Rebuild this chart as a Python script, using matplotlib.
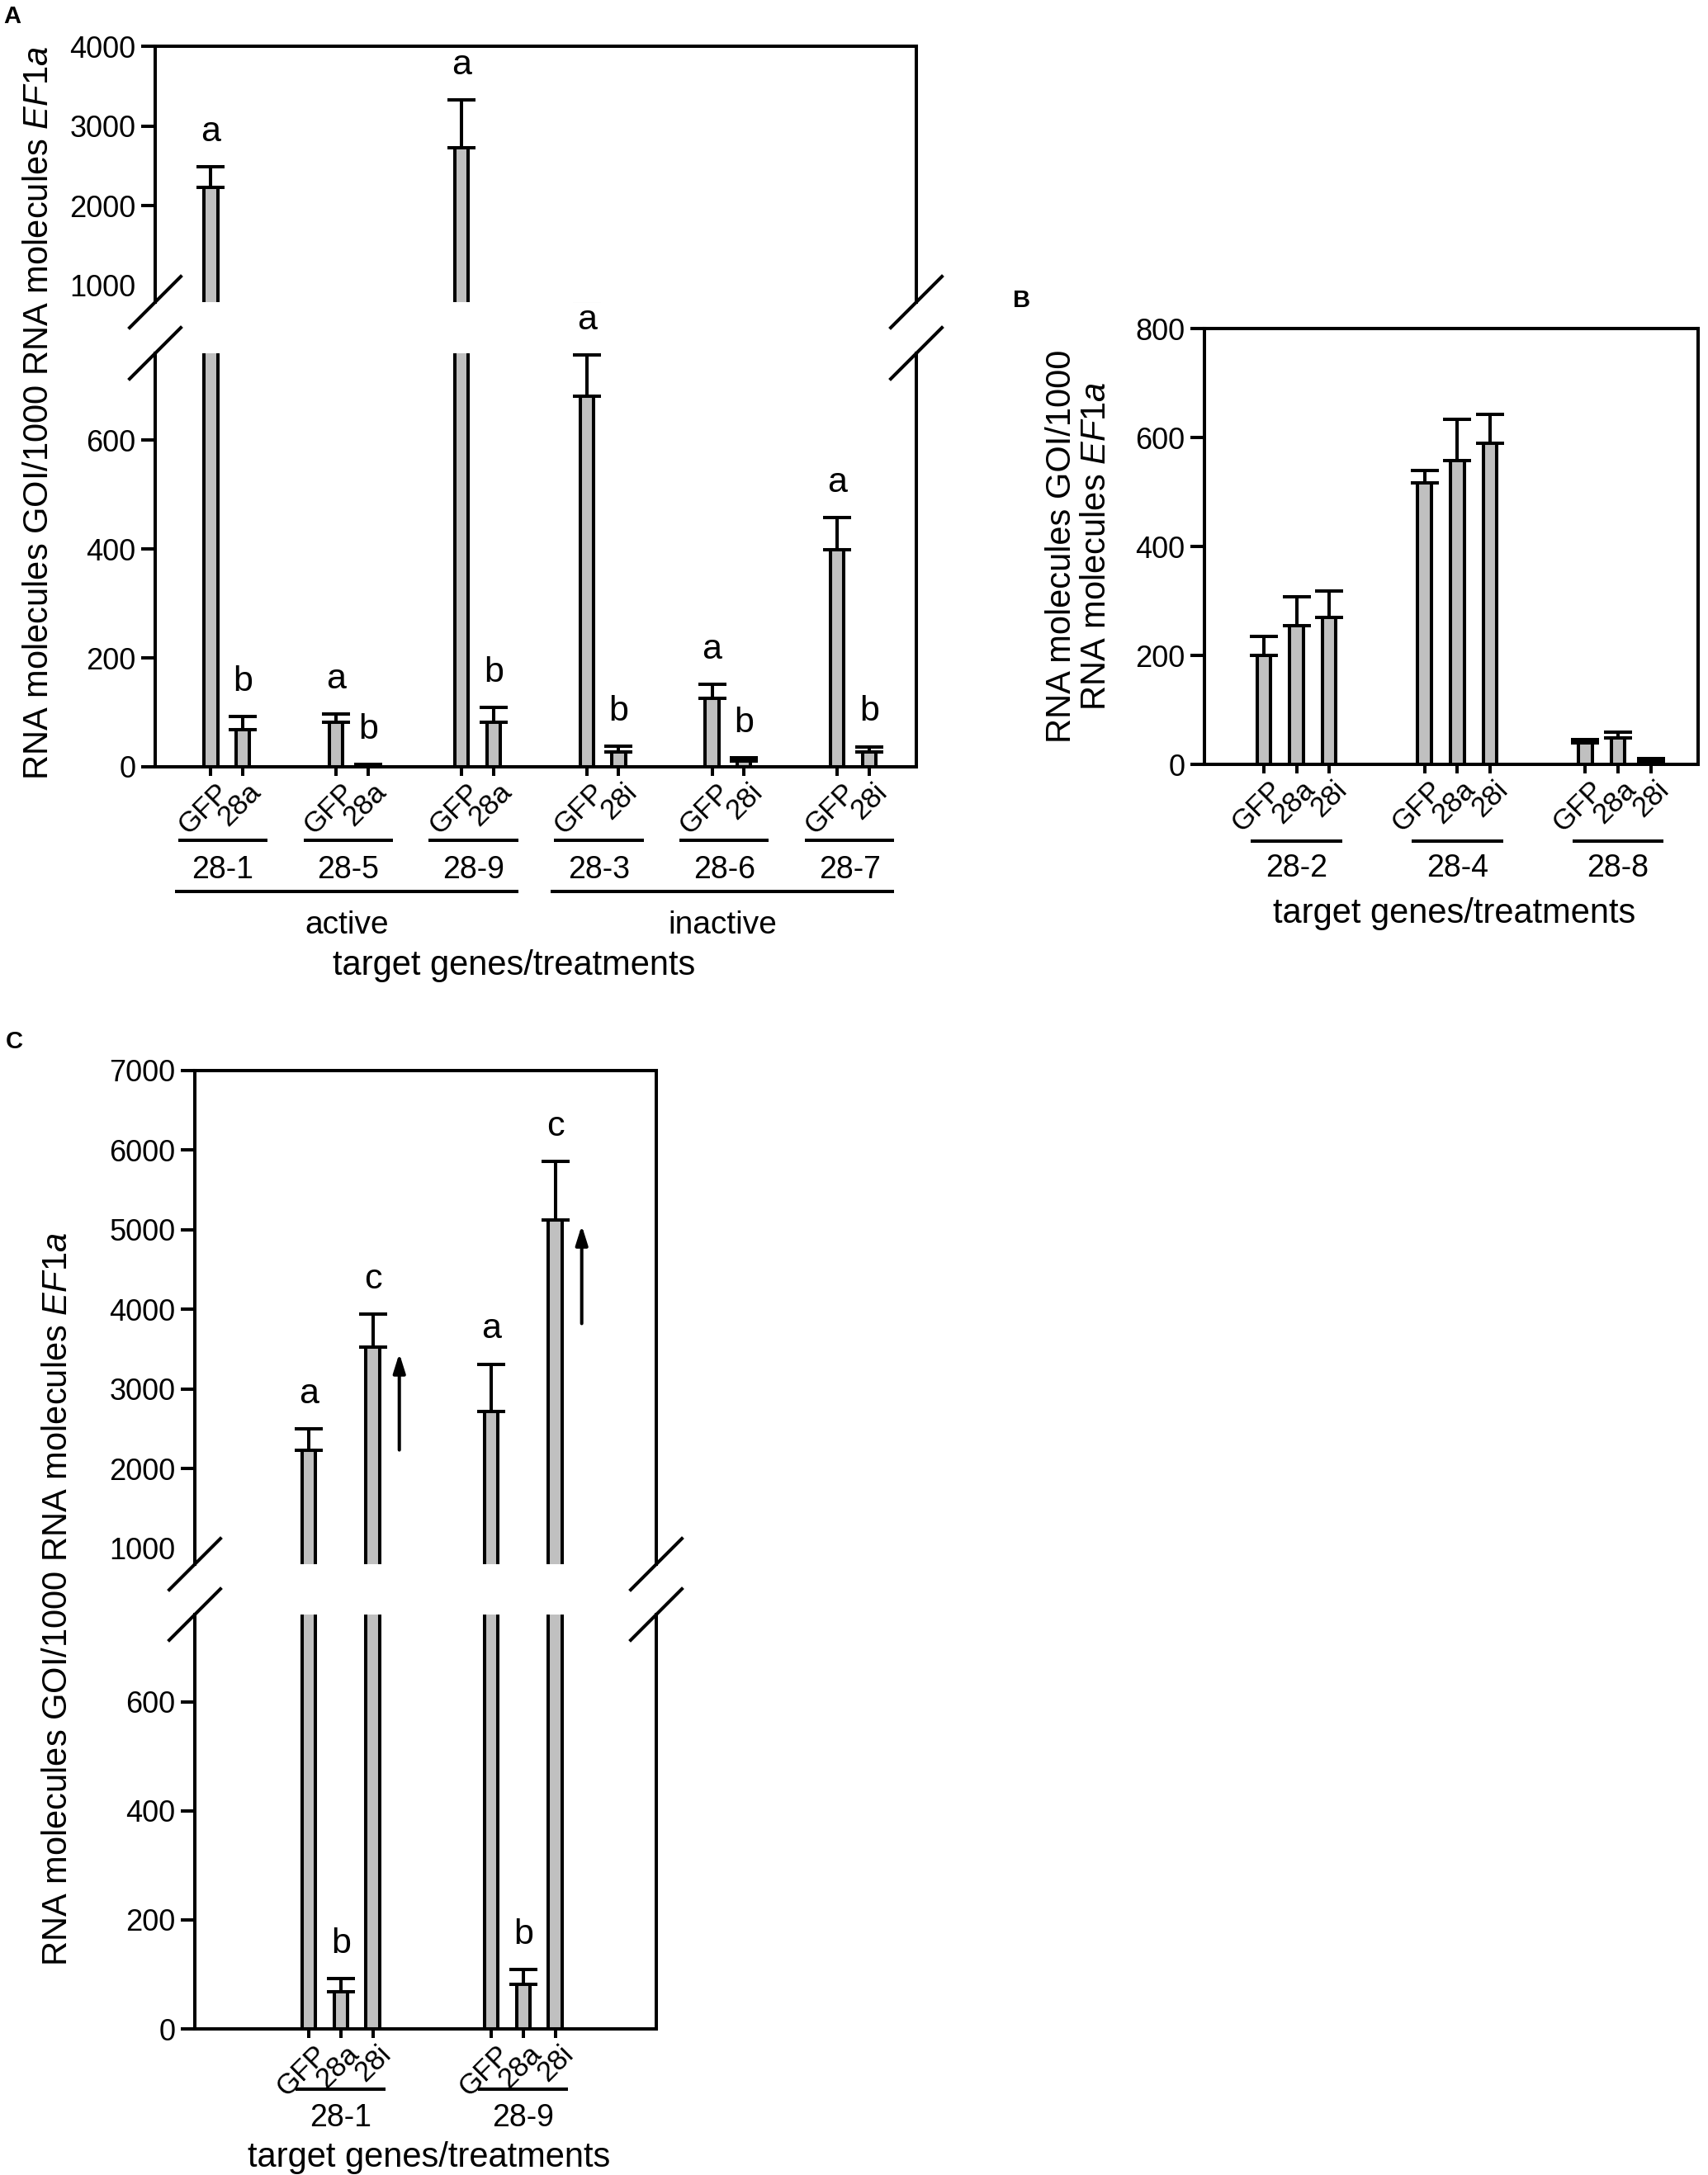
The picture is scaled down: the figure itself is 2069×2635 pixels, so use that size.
import numpy as np
import matplotlib.pyplot as plt
from matplotlib.lines import Line2D
from matplotlib.transforms import ScaledTranslation

plt.rcParams['font.family'] = ['Liberation Sans', 'DejaVu Sans']
plt.rcParams['mathtext.fontset'] = 'custom'
plt.rcParams['mathtext.rm'] = 'Liberation Sans'
plt.rcParams['mathtext.it'] = 'Liberation Sans:italic'

# ---- data ----
# panel A
a_genes = ['28-1', '28-5', '28-9', '28-3', '28-6', '28-7']
a_class = ['active', 'active', 'active', 'inactive', 'inactive', 'inactive']
a_treat = [['GFP', '28a'], ['GFP', '28a'], ['GFP', '28a'],
           ['GFP', '28i'], ['GFP', '28i'], ['GFP', '28i']]
a_mean = [[2229, 68], [82, 3], [2724, 82], [681, 28], [126, 10], [399, 28]]
a_top = [[2484, 92], [97, 4], [3322, 109], [757, 38], [151, 17], [458, 37]]
a_letters = [['a', 'b'], ['a', 'b'], ['a', 'b'], ['a', 'b'], ['a', 'b'], ['a', 'b']]

# panel B
b_genes = ['28-2', '28-4', '28-8']
b_treat = ['GFP', '28a', '28i']
b_mean = [[200, 255, 269], [517, 558, 590], [40, 48, 6]]
b_top = [[235, 307, 318], [539, 634, 642], [46, 59, 11]]

# panel C
c_genes = ['28-1', '28-9']
c_treat = ['GFP', '28a', '28i']
c_mean = [[2234, 68, 3528], [2722, 81, 5121]]
c_top = [[2497, 92, 3940], [3312, 109, 5862]]
c_letters = [['a', 'b', 'c'], ['a', 'b', 'c']]
c_arrow_from = [2206, 3794]
c_arrow_to = [3477, 5084]

YLAB = r'RNA molecules GOI/1000 RNA molecules $\mathit{EF1a}$'
XLAB = 'target genes/treatments'

W, H = 2069, 2635
LW = 2.9
GRAY = '#c0c0c0'
fig = plt.figure(figsize=(W / 100, H / 100), dpi=100)


def add_ax(left, right, top, bottom):
    return fig.add_axes([left / W, 1 - bottom / H, (right - left) / W, (bottom - top) / H])


def ftext(x, y, s, **kw):
    fig.text(x / W, 1 - y / H, s, **kw)


def slash(x, y, d=31):
    fig.add_artist(Line2D([(x - d) / W, (x + d) / W], [1 - (y + d) / H, 1 - (y - d) / H],
                          transform=fig.transFigure, color='black', lw=LW))


def style(ax):
    for s in ax.spines.values():
        s.set_linewidth(LW)
    ax.tick_params(axis='y', length=12, width=LW, labelsize=26, pad=5)
    ax.tick_params(axis='x', length=8, width=LW, labelsize=25, pad=2)


def rot_labels(ax, xs, labels):
    ax.set_xticks(xs)
    ax.set_xticklabels(labels, rotation=45, ha='right', rotation_mode='anchor')
    shift = ScaledTranslation(5 / 100, 0, fig.dpi_scale_trans)
    for lab in ax.get_xticklabels():
        lab.set_transform(lab.get_transform() + shift)


def bars(ax, xs, means, tops):
    means = np.array(means, float)
    tops = np.array(tops, float)
    ax.errorbar(xs, means, yerr=[np.zeros_like(means), tops - means], fmt='none',
                ecolor='black', elinewidth=LW, capsize=12.5, capthick=LW, zorder=1)
    ax.bar(xs, means, width=0.42, color=GRAY, edgecolor='black', linewidth=LW, zorder=2)


def positions(n_groups, n_per, spacing):
    return [[g * spacing + t for t in range(n_per)] for g in range(n_groups)]


def group_lines(ax, pos, genes, y_line, y_text, shift=0.0, half=1.4):
    ext = []
    for p, g in zip(pos, genes):
        c = np.mean(p) + shift
        ax.plot([c - half, c + half], [y_line, y_line], color='black', lw=LW,
                transform=ax.get_xaxis_transform(), clip_on=False, solid_capstyle='butt')
        ax.text(c, y_text, g, transform=ax.get_xaxis_transform(), ha='center', va='center',
                fontsize=27)
        ext.append((c - half, c + half))
    return ext


def broken(box, pos, means, tops, lims_lo, lims_up, ticks_lo, ticks_up, xlim):
    left, right, top, up_bot, lo_top, bottom = box
    ax_up = add_ax(left, right, top, up_bot)
    ax_lo = add_ax(left, right, lo_top, bottom)
    xs = np.concatenate(pos)
    for ax in (ax_up, ax_lo):
        bars(ax, xs, np.concatenate(means), np.concatenate(tops))
        ax.set_xlim(*xlim)
        style(ax)
    ax_up.set_ylim(*lims_up)
    ax_lo.set_ylim(*lims_lo)
    ax_up.set_yticks(ticks_up)
    ax_lo.set_yticks(ticks_lo)
    ax_up.yaxis.get_major_ticks()[0].tick1line.set_visible(False)
    ax_up.spines['bottom'].set_visible(False)
    ax_up.tick_params(axis='x', bottom=False, labelbottom=False)
    ax_lo.spines['top'].set_visible(False)
    for x in (left, right):
        slash(x, up_bot)
        slash(x, lo_top)
    return ax_up, ax_lo


def letters(ax_up, ax_lo, xs, tops, labs, split):
    for x, t, s in zip(xs, tops, labs):
        ax = ax_up if t > split else ax_lo
        ax.annotate(s, (x, t), xytext=(0, 16), textcoords='offset points', ha='center',
                    va='bottom', fontsize=31, annotation_clip=False)


# ---- panel A ----
a_pos = positions(len(a_genes), 2, 3.92)
a_box = (188, 1110, 56, 366, 428, 929)
a_up, a_lo = broken(a_box, a_pos, a_mean, a_top, (0, 760), (790, 4000),
                    [0, 200, 400, 600], [1000, 2000, 3000, 4000], (-1.74, 22.07))
a_xs = np.concatenate(a_pos)
rot_labels(a_lo, a_xs, np.concatenate(a_treat))
letters(a_up, a_lo, a_xs, np.concatenate(a_top), np.concatenate(a_letters), 760)
ext = group_lines(a_lo, a_pos, a_genes, -0.178, -0.25, shift=-0.12)
for cls in ['active', 'inactive']:
    idx = [i for i, c in enumerate(a_class) if c == cls]
    x0, x1 = ext[idx[0]][0] - 0.1, ext[idx[-1]][1]
    a_lo.plot([x0, x1], [-0.302, -0.302], color='black', lw=LW,
              transform=a_lo.get_xaxis_transform(), clip_on=False, solid_capstyle='butt')
    a_lo.text((x0 + x1) / 2, -0.384, cls, transform=a_lo.get_xaxis_transform(),
              ha='center', va='center', fontsize=28)
ftext(623, 1170, XLAB, ha='center', va='center', fontsize=30)
ftext(47, 501, YLAB, ha='center', va='center', rotation=90, fontsize=30)
ftext(15, 20, 'A', ha='center', va='center', fontsize=21, fontweight='bold')

# ---- panel B ----
b_pos = positions(len(b_genes), 3, 4.92)
b_ax = add_ax(1459, 2057, 398, 926)
b_xs = np.concatenate(b_pos)
bars(b_ax, b_xs, np.concatenate(b_mean), np.concatenate(b_top))
style(b_ax)
b_ax.set_xlim(-1.82, 13.29)
b_ax.set_ylim(0, 800)
b_ax.set_yticks([0, 200, 400, 600, 800])
rot_labels(b_ax, b_xs, b_treat * len(b_genes))
group_lines(b_ax, b_pos, b_genes, -0.176, -0.238)
ftext(1762, 1107, XLAB, ha='center', va='center', fontsize=30)
ftext(1307, 662, 'RNA molecules GOI/1000\nRNA molecules $\\mathit{EF1a}$', ha='center',
      va='center', rotation=90, fontsize=30, linespacing=1.05)
ftext(1238, 364, 'B', ha='center', va='center', fontsize=21, fontweight='bold')

# ---- panel C ----
c_pos = positions(len(c_genes), 3, 5.7)
c_box = (236, 795, 1297, 1895, 1956, 2458)
c_up, c_lo = broken(c_box, c_pos, c_mean, c_top, (0, 760), (800, 7000),
                    [0, 200, 400, 600], list(range(1000, 8000, 1000)), (-3.56, 10.86))
c_xs = np.concatenate(c_pos)
rot_labels(c_lo, c_xs, c_treat * len(c_genes))
letters(c_up, c_lo, c_xs, np.concatenate(c_top), np.concatenate(c_letters), 760)
group_lines(c_lo, c_pos, c_genes, -0.145, -0.215)
for p, y0, y1 in zip(c_pos, c_arrow_from, c_arrow_to):
    c_up.annotate('', xy=(p[-1] + 0.83, y1), xytext=(p[-1] + 0.83, y0),
                  arrowprops=dict(arrowstyle='-|>,head_length=0.7,head_width=0.22',
                                  color='black', lw=LW, mutation_scale=20))
ftext(520, 2614, XLAB, ha='center', va='center', fontsize=30)
ftext(70, 1938, YLAB, ha='center', va='center', rotation=90, fontsize=30)
ftext(17, 1262, 'C', ha='center', va='center', fontsize=21, fontweight='bold')

fig.savefig('out.png', dpi=100)
